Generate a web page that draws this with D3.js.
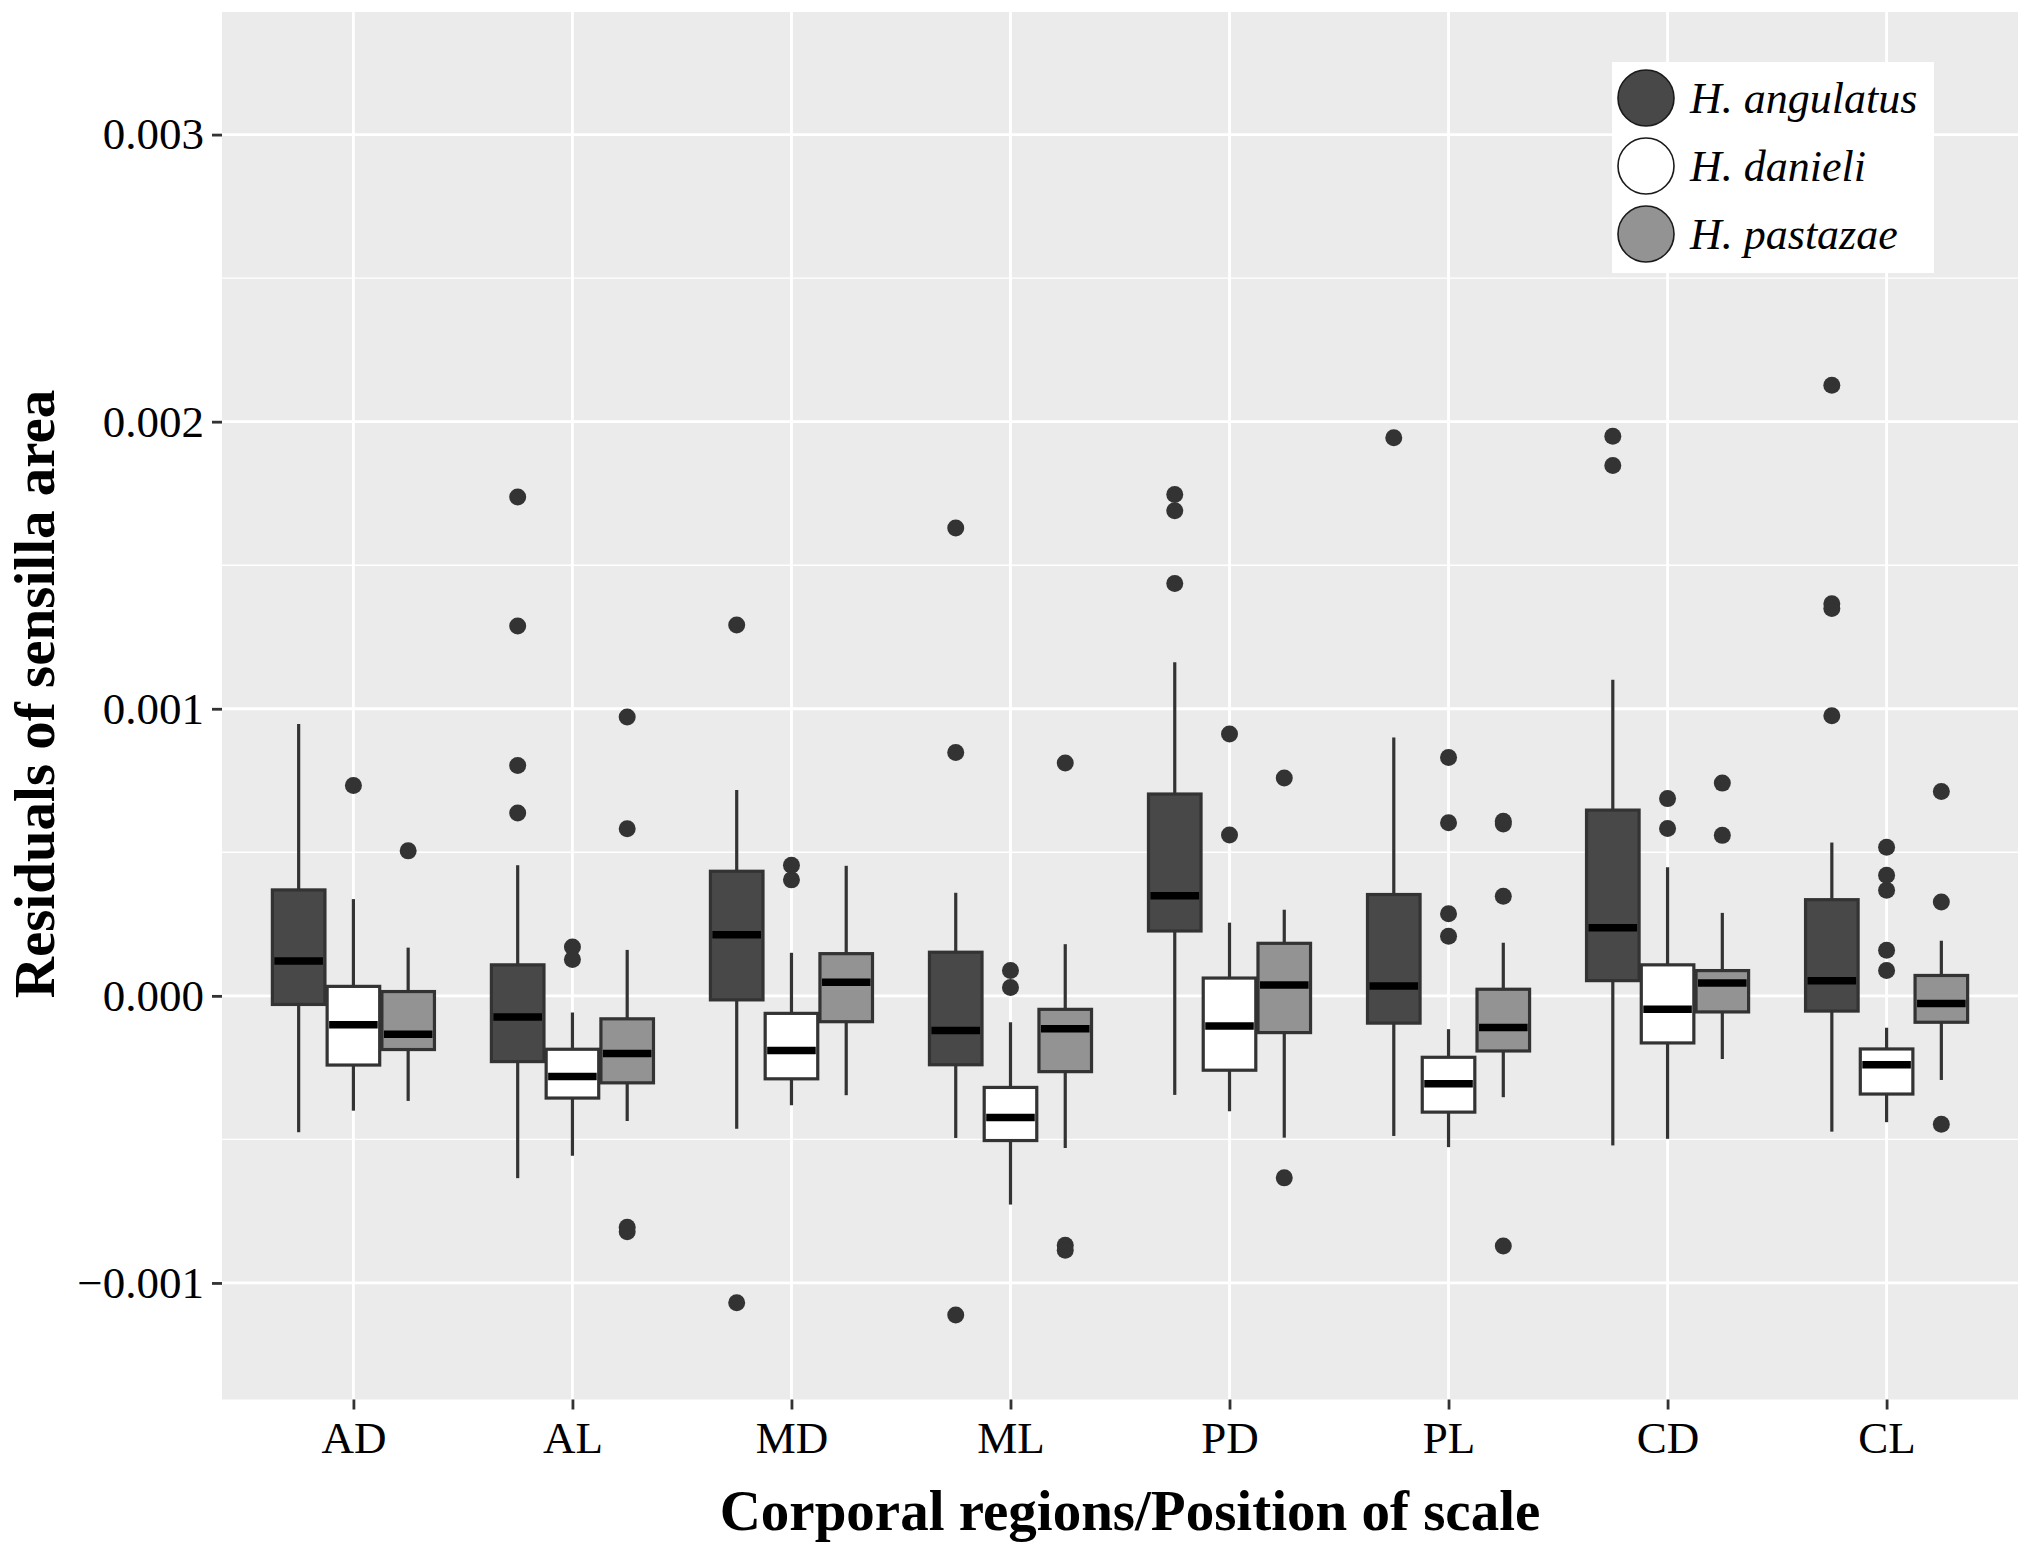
<!DOCTYPE html>
<html>
<head>
<meta charset="utf-8">
<script src="https://cdn.jsdelivr.net/npm/d3@7"></script>
<style>
  html, body { margin: 0; padding: 0; background: #ffffff; }
  svg { display: block; }
</style>
</head>
<body>
<svg id="chart" width="2028" height="1548"></svg>
<script>
// ---------- data (values in units of 0.001) ----------
const categories = ["AD", "AL", "MD", "ML", "PD", "PL", "CD", "CL"];
const species = ["H. angulatus", "H. danieli", "H. pastazae"];
const speciesFill = ["#484848", "#ffffff", "#939393"];

// [lower whisker, Q1, median, Q3, upper whisker] per category
const angulatusStats = [
  [-0.475, -0.030, 0.121, 0.369, 0.947],
  [-0.635, -0.229, -0.074, 0.108, 0.455],
  [-0.463, -0.014, 0.213, 0.434, 0.717],
  [-0.495, -0.240, -0.121, 0.152, 0.359],
  [-0.345, 0.226, 0.349, 0.703, 1.162],
  [-0.488, -0.095, 0.034, 0.353, 0.900],
  [-0.521, 0.053, 0.237, 0.647, 1.101],
  [-0.473, -0.053, 0.053, 0.335, 0.534]
];
const danieliStats = [
  [-0.400, -0.241, -0.101, 0.033, 0.337],
  [-0.557, -0.356, -0.281, -0.186, -0.058],
  [-0.381, -0.289, -0.190, -0.061, 0.150],
  [-0.727, -0.504, -0.424, -0.319, -0.092],
  [-0.402, -0.259, -0.105, 0.062, 0.255],
  [-0.527, -0.405, -0.306, -0.214, -0.116],
  [-0.498, -0.164, -0.047, 0.108, 0.448],
  [-0.440, -0.342, -0.240, -0.185, -0.111]
];
const pastazaeStats = [
  [-0.366, -0.187, -0.134, 0.015, 0.168],
  [-0.436, -0.303, -0.201, -0.080, 0.160],
  [-0.346, -0.090, 0.047, 0.147, 0.453],
  [-0.530, -0.264, -0.115, -0.047, 0.180],
  [-0.494, -0.128, 0.038, 0.183, 0.300],
  [-0.353, -0.192, -0.110, 0.023, 0.185],
  [-0.220, -0.056, 0.045, 0.088, 0.289],
  [-0.293, -0.092, -0.027, 0.071, 0.192]
];

// outliers per category
const angulatusOutliers = [
  [],
  [1.738, 1.288, 0.802, 0.637],
  [1.292, -1.069],
  [1.630, 0.848, -1.112],
  [1.746, 1.690, 1.436],
  [1.944],
  [1.949, 1.847],
  [2.127, 1.366, 1.349, 0.976]
];
const danieliOutliers = [
  [0.733],
  [0.170, 0.127],
  [0.455, 0.404],
  [0.088, 0.029],
  [0.912, 0.560],
  [0.830, 0.603, 0.286, 0.208],
  [0.687, 0.583],
  [0.518, 0.420, 0.368, 0.159, 0.088]
];
const pastazaeOutliers = [
  [0.505],
  [0.971, 0.582, -0.806, -0.822],
  [],
  [0.811, -0.869, -0.886],
  [0.759, -0.634],
  [0.608, 0.599, 0.347, -0.871],
  [0.741, 0.559],
  [0.712, 0.327, -0.447]
];

const yTicks = [-0.001, 0, 0.001, 0.002, 0.003];
const yMinor = [-0.0005, 0.0005, 0.0015, 0.0025];
const yDomain = [-0.001406, 0.003427];

// ---------- layout ----------
const svg = d3.select("#chart");
const panel = { left: 222, top: 12, right: 2018, bottom: 1399.5 };
const FONT = "'Liberation Serif', 'Times New Roman', serif";

const x = d3.scalePoint().domain(categories).range([panel.left, panel.right]).padding(0.6);
const step = x.step();
const xSpecies = d3.scaleBand().domain(species).range([-0.375 * step, 0.375 * step]);
const boxW = 0.24 * step;
const y = d3.scaleLinear().domain(yDomain).range([panel.bottom, panel.top]);
const fillScale = d3.scaleOrdinal().domain(species).range(speciesFill);

// panel background
svg.append("rect")
  .attr("x", panel.left).attr("y", panel.top)
  .attr("width", panel.right - panel.left).attr("height", panel.bottom - panel.top)
  .attr("fill", "#ebebeb");

const grid = svg.append("g");
grid.selectAll("line.minor").data(yMinor).join("line")
  .attr("x1", panel.left).attr("x2", panel.right)
  .attr("y1", d => y(d)).attr("y2", d => y(d))
  .attr("stroke", "#ffffff").attr("stroke-width", 1.4);
grid.selectAll("line.majory").data(yTicks).join("line")
  .attr("x1", panel.left).attr("x2", panel.right)
  .attr("y1", d => y(d)).attr("y2", d => y(d))
  .attr("stroke", "#ffffff").attr("stroke-width", 2.8);
grid.selectAll("line.majorx").data(categories).join("line")
  .attr("x1", d => x(d)).attr("x2", d => x(d))
  .attr("y1", panel.top).attr("y2", panel.bottom)
  .attr("stroke", "#ffffff").attr("stroke-width", 2.8);

// ---------- boxes ----------
const statsBySpecies = [angulatusStats, danieliStats, pastazaeStats];
const outliersBySpecies = [angulatusOutliers, danieliOutliers, pastazaeOutliers];
const boxes = [];
const points = [];
species.forEach((sp, si) => {
  categories.forEach((cat, ci) => {
    const s = statsBySpecies[si][ci].map(v => v * 0.001);
    boxes.push({ sp, cat, lo: s[0], q1: s[1], med: s[2], q3: s[3], hi: s[4] });
    outliersBySpecies[si][ci].forEach(v => points.push({ sp, cat, v: v * 0.001 }));
  });
});
const cx = d => x(d.cat) + xSpecies(d.sp) + xSpecies.bandwidth() / 2;

const bg = svg.append("g");
bg.selectAll("line.wu").data(boxes).join("line")
  .attr("x1", cx).attr("x2", cx)
  .attr("y1", d => y(d.q3)).attr("y2", d => y(d.hi))
  .attr("stroke", "#333333").attr("stroke-width", 3.2);
bg.selectAll("line.wl").data(boxes).join("line")
  .attr("x1", cx).attr("x2", cx)
  .attr("y1", d => y(d.q1)).attr("y2", d => y(d.lo))
  .attr("stroke", "#333333").attr("stroke-width", 3.2);
bg.selectAll("rect.box").data(boxes).join("rect")
  .attr("x", d => cx(d) - boxW / 2).attr("width", boxW)
  .attr("y", d => y(d.q3)).attr("height", d => y(d.q1) - y(d.q3))
  .attr("fill", d => fillScale(d.sp))
  .attr("stroke", "#333333").attr("stroke-width", 3.2);
bg.selectAll("line.med").data(boxes).join("line")
  .attr("x1", d => cx(d) - boxW / 2 + 2).attr("x2", d => cx(d) + boxW / 2 - 2)
  .attr("y1", d => y(d.med)).attr("y2", d => y(d.med))
  .attr("stroke", "#000000").attr("stroke-width", 7.5);
bg.selectAll("circle.out").data(points).join("circle")
  .attr("cx", cx).attr("cy", d => y(d.v)).attr("r", 8.5)
  .attr("fill", "#333333");

// ---------- axes ----------
const yAxis = svg.append("g")
  .attr("transform", `translate(${panel.left},0)`)
  .call(d3.axisLeft(y).tickValues(yTicks).tickFormat(d3.format(".3f")).tickSize(10).tickPadding(8));
yAxis.select(".domain").remove();
yAxis.selectAll(".tick line").attr("stroke", "#333333").attr("stroke-width", 2.8);
yAxis.selectAll(".tick text")
  .attr("font-family", FONT).attr("font-size", 45).attr("fill", "#000000");

const xAxis = svg.append("g")
  .attr("transform", `translate(0,${panel.bottom})`)
  .call(d3.axisBottom(x).tickSize(10).tickPadding(12));
xAxis.select(".domain").remove();
xAxis.selectAll(".tick line").attr("stroke", "#333333").attr("stroke-width", 2.8);
xAxis.selectAll(".tick text")
  .attr("font-family", FONT).attr("font-size", 45).attr("fill", "#000000");

// axis titles
svg.append("text")
  .attr("x", 1130).attr("y", 1530)
  .attr("text-anchor", "middle")
  .attr("font-family", FONT).attr("font-size", 57).attr("font-weight", "bold")
  .text("Corporal regions/Position of scale");
svg.append("text")
  .attr("transform", `translate(54,694) rotate(-90)`)
  .attr("text-anchor", "middle")
  .attr("font-family", FONT).attr("font-size", 57).attr("font-weight", "bold")
  .text("Residuals of sensilla area");

// ---------- legend ----------
const legend = svg.append("g").attr("transform", "translate(1612,62)");
legend.append("rect").attr("width", 322).attr("height", 211).attr("fill", "#ffffff");
const li = legend.selectAll("g.item").data(species).join("g")
  .attr("transform", (d, i) => `translate(34,${36 + i * 68})`);
li.append("circle").attr("r", 28)
  .attr("fill", d => fillScale(d)).attr("stroke", "#1a1a1a").attr("stroke-width", 1.6);
li.append("text")
  .attr("x", 44).attr("y", 15)
  .attr("font-family", FONT).attr("font-size", 44).attr("font-style", "italic")
  .text(d => d);
</script>
</body>
</html>
